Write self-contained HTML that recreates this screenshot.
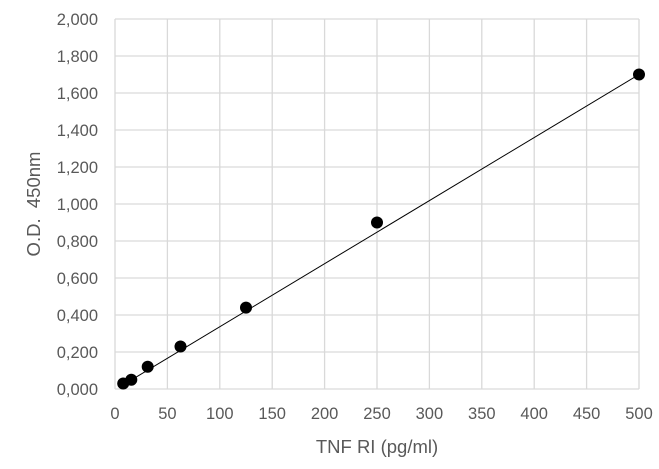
<!DOCTYPE html>
<html><head><style>body{margin:0;background:#fff}svg{display:block}text{font-family:"Liberation Sans",sans-serif;fill:#595959}</style></head><body>
<svg width="659" height="469" xmlns="http://www.w3.org/2000/svg">
<g stroke="#d9d9d9" stroke-width="1.3">
<line x1="115" y1="19" x2="639" y2="19"/><line x1="115" y1="56" x2="639" y2="56"/><line x1="115" y1="93" x2="639" y2="93"/><line x1="115" y1="130" x2="639" y2="130"/><line x1="115" y1="167" x2="639" y2="167"/><line x1="115" y1="204" x2="639" y2="204"/><line x1="115" y1="241" x2="639" y2="241"/><line x1="115" y1="278" x2="639" y2="278"/><line x1="115" y1="315" x2="639" y2="315"/><line x1="115" y1="352" x2="639" y2="352"/>
<line x1="115" y1="19" x2="115" y2="389"/><line x1="167.4" y1="19" x2="167.4" y2="389"/><line x1="219.8" y1="19" x2="219.8" y2="389"/><line x1="272.2" y1="19" x2="272.2" y2="389"/><line x1="324.6" y1="19" x2="324.6" y2="389"/><line x1="377" y1="19" x2="377" y2="389"/><line x1="429.4" y1="19" x2="429.4" y2="389"/><line x1="481.8" y1="19" x2="481.8" y2="389"/><line x1="534.2" y1="19" x2="534.2" y2="389"/><line x1="586.6" y1="19" x2="586.6" y2="389"/><line x1="639" y1="19" x2="639" y2="389"/>
<line x1="115" y1="389" x2="639" y2="389"/>
</g>
<line x1="123" y1="385" x2="639" y2="74.5" stroke="#000" stroke-width="1"/>
<g fill="#000">
<circle cx="123.2" cy="383.5" r="6"/><circle cx="131.3" cy="379.8" r="6"/><circle cx="147.7" cy="366.8" r="6"/><circle cx="180.5" cy="346.5" r="6"/><circle cx="246" cy="307.6" r="6"/><circle cx="377" cy="222.5" r="6"/><circle cx="639" cy="74.5" r="6"/>
</g>
<g font-size="16.5" text-anchor="end">
<text x="98" y="25">2,000</text><text x="98" y="62">1,800</text><text x="98" y="99">1,600</text><text x="98" y="136">1,400</text><text x="98" y="173">1,200</text><text x="98" y="210">1,000</text><text x="98" y="247">0,800</text><text x="98" y="284">0,600</text><text x="98" y="321">0,400</text><text x="98" y="358">0,200</text><text x="98" y="395">0,000</text>
</g>
<g font-size="16.5" text-anchor="middle">
<text x="115" y="419">0</text><text x="167.4" y="419">50</text><text x="219.8" y="419">100</text><text x="272.2" y="419">150</text><text x="324.6" y="419">200</text><text x="377" y="419">250</text><text x="429.4" y="419">300</text><text x="481.8" y="419">350</text><text x="534.2" y="419">400</text><text x="586.6" y="419">450</text><text x="639" y="419">500</text>
<text x="377" y="453" font-size="18.5">TNF RI (pg/ml)</text>
<text x="0" y="0" font-size="18.5" transform="translate(40 204) rotate(-90)" xml:space="preserve">O.D.  450nm</text>
</g>
</svg>
</body></html>
